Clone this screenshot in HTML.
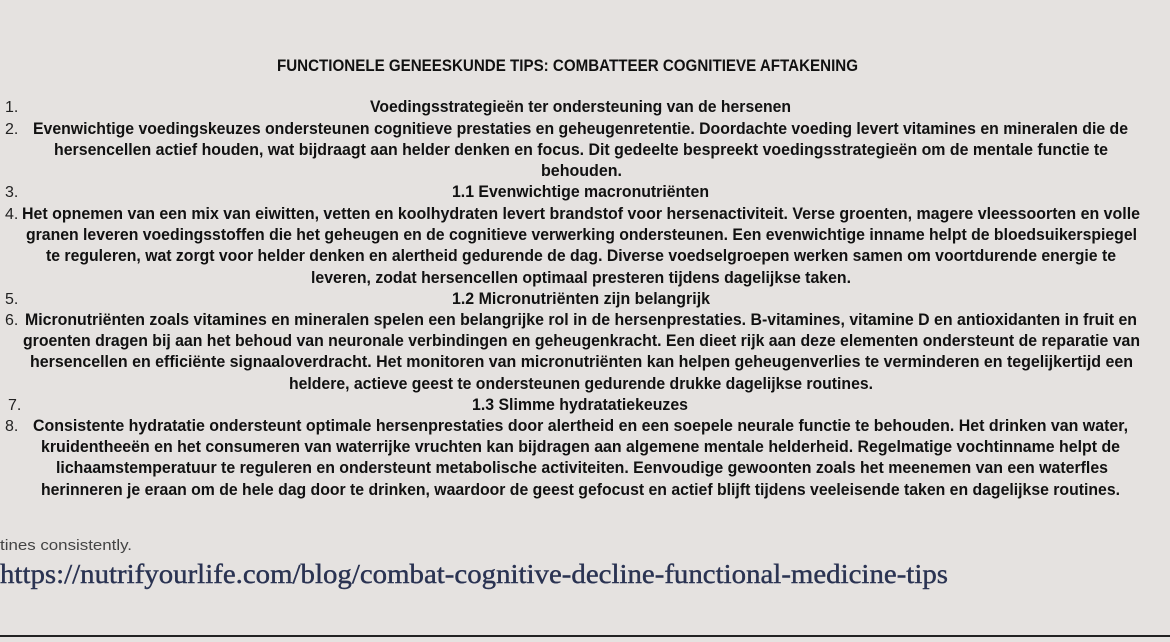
<!DOCTYPE html>
<html><head><meta charset="utf-8"><style>
html,body{margin:0;padding:0;background:#e5e2e0;}
svg{display:block}
.b{font-family:"Liberation Sans",sans-serif;font-weight:bold;font-size:16.5px;fill:#111;}
.n{font-family:"Liberation Sans",sans-serif;font-size:16px;fill:#222;}
</style></head><body>
<svg width="1170" height="642" viewBox="0 0 1170 642">
<rect width="1170" height="642" fill="#e5e2e0"/>
<text class="b" x="277" y="71" textLength="581" lengthAdjust="spacingAndGlyphs">FUNCTIONELE GENEESKUNDE TIPS: COMBATTEER COGNITIEVE AFTAKENING</text>
<g>
<text class="n" x="5" y="112">1.</text>
<text class="b" x="370" y="112" textLength="421" lengthAdjust="spacingAndGlyphs">Voedingsstrategieën ter ondersteuning van de hersenen</text>
<text class="n" x="5" y="134">2.</text>
<text class="b" x="33" y="134" textLength="1095" lengthAdjust="spacingAndGlyphs">Evenwichtige voedingskeuzes ondersteunen cognitieve prestaties en geheugenretentie. Doordachte voeding levert vitamines en mineralen die de</text>
<text class="b" x="54" y="155" textLength="1054" lengthAdjust="spacingAndGlyphs">hersencellen actief houden, wat bijdraagt aan helder denken en focus. Dit gedeelte bespreekt voedingsstrategieën om de mentale functie te</text>
<text class="b" x="541" y="176" textLength="81" lengthAdjust="spacingAndGlyphs">behouden.</text>
<text class="n" x="5" y="197">3.</text>
<text class="b" x="452" y="197" textLength="257" lengthAdjust="spacingAndGlyphs">1.1 Evenwichtige macronutriënten</text>
<text class="n" x="5" y="219">4.</text>
<text class="b" x="22" y="219" textLength="1118" lengthAdjust="spacingAndGlyphs">Het opnemen van een mix van eiwitten, vetten en koolhydraten levert brandstof voor hersenactiviteit. Verse groenten, magere vleessoorten en volle</text>
<text class="b" x="26" y="240" textLength="1111" lengthAdjust="spacingAndGlyphs">granen leveren voedingsstoffen die het geheugen en de cognitieve verwerking ondersteunen. Een evenwichtige inname helpt de bloedsuikerspiegel</text>
<text class="b" x="46" y="261" textLength="1070" lengthAdjust="spacingAndGlyphs">te reguleren, wat zorgt voor helder denken en alertheid gedurende de dag. Diverse voedselgroepen werken samen om voortdurende energie te</text>
<text class="b" x="311" y="283" textLength="540" lengthAdjust="spacingAndGlyphs">leveren, zodat hersencellen optimaal presteren tijdens dagelijkse taken.</text>
<text class="n" x="5" y="304">5.</text>
<text class="b" x="452" y="304" textLength="258" lengthAdjust="spacingAndGlyphs">1.2 Micronutriënten zijn belangrijk</text>
<text class="n" x="5" y="325">6.</text>
<text class="b" x="25" y="325" textLength="1112" lengthAdjust="spacingAndGlyphs">Micronutriënten zoals vitamines en mineralen spelen een belangrijke rol in de hersenprestaties. B-vitamines, vitamine D en antioxidanten in fruit en</text>
<text class="b" x="23" y="346" textLength="1117" lengthAdjust="spacingAndGlyphs">groenten dragen bij aan het behoud van neuronale verbindingen en geheugenkracht. Een dieet rijk aan deze elementen ondersteunt de reparatie van</text>
<text class="b" x="30" y="367" textLength="1103" lengthAdjust="spacingAndGlyphs">hersencellen en efficiënte signaaloverdracht. Het monitoren van micronutriënten kan helpen geheugenverlies te verminderen en tegelijkertijd een</text>
<text class="b" x="289" y="389" textLength="584" lengthAdjust="spacingAndGlyphs">heldere, actieve geest te ondersteunen gedurende drukke dagelijkse routines.</text>
<text class="n" x="8" y="410">7.</text>
<text class="b" x="472" y="410" textLength="216" lengthAdjust="spacingAndGlyphs">1.3 Slimme hydratatiekeuzes</text>
<text class="n" x="5" y="431">8.</text>
<text class="b" x="33" y="431" textLength="1095" lengthAdjust="spacingAndGlyphs">Consistente hydratatie ondersteunt optimale hersenprestaties door alertheid en een soepele neurale functie te behouden. Het drinken van water,</text>
<text class="b" x="41" y="452" textLength="1079" lengthAdjust="spacingAndGlyphs">kruidentheeën en het consumeren van waterrijke vruchten kan bijdragen aan algemene mentale helderheid. Regelmatige vochtinname helpt de</text>
<text class="b" x="56" y="473" textLength="1052" lengthAdjust="spacingAndGlyphs">lichaamstemperatuur te reguleren en ondersteunt metabolische activiteiten. Eenvoudige gewoonten zoals het meenemen van een waterfles</text>
<text class="b" x="41" y="495" textLength="1079" lengthAdjust="spacingAndGlyphs">herinneren je eraan om de hele dag door te drinken, waardoor de geest gefocust en actief blijft tijdens veeleisende taken en dagelijkse routines.</text>
</g>
<text x="0" y="550" font-family="Liberation Sans, sans-serif" font-size="15" fill="#444" textLength="132" lengthAdjust="spacingAndGlyphs">tines consistently.</text>
<text x="0" y="583" font-family="Liberation Serif, serif" font-size="27" fill="#2a3352" stroke="#2a3352" stroke-width="0.4" textLength="948" lengthAdjust="spacingAndGlyphs">https://nutrifyourlife.com/blog/combat-cognitive-decline-functional-medicine-tips</text>
<rect x="0" y="635" width="1170" height="2" fill="#222"/>
</svg>
</body></html>
